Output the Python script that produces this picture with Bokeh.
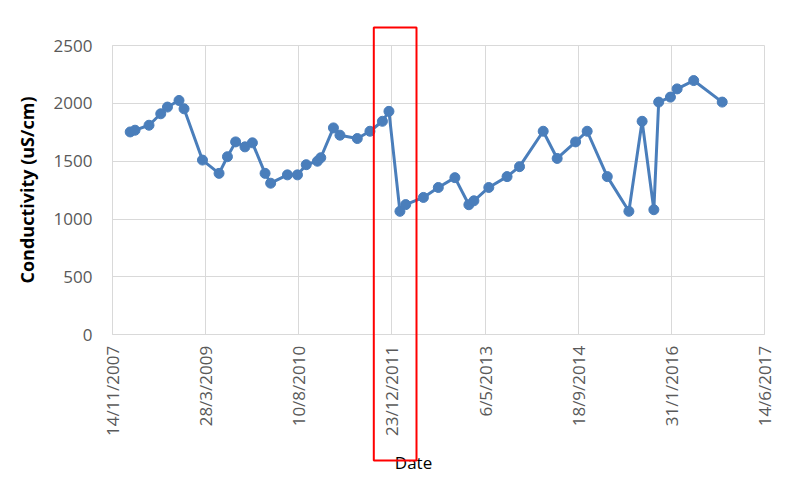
import math
import pandas as pd
from bokeh.plotting import figure
from bokeh.models import FixedTicker, BoxAnnotation, Label, Range1d
from bokeh.embed import file_html
from bokeh.resources import INLINE

# ---- data ----
dates = [
    "2008-02-17", "2008-03-14", "2008-05-28", "2008-07-30", "2008-09-04", "2008-11-05", "2008-12-02",
    "2009-03-11", "2009-06-08", "2009-07-23", "2009-09-05", "2009-10-25", "2009-12-04",
    "2010-02-10", "2010-03-12", "2010-06-10", "2010-08-03", "2010-09-19", "2010-11-18", "2010-12-06",
    "2011-02-12", "2011-03-19", "2011-06-20", "2011-08-27", "2011-11-02", "2011-12-07",
    "2012-02-04", "2012-03-06", "2012-06-09", "2012-08-28", "2012-11-25",
    "2013-02-08", "2013-03-07", "2013-05-26", "2013-09-01", "2013-11-07",
    "2014-03-14", "2014-05-28", "2014-09-04", "2014-11-05",
    "2015-02-21", "2015-06-17", "2015-08-27", "2015-10-29", "2015-11-24",
    "2016-01-26", "2016-03-02", "2016-05-30", "2016-10-30",
]
conductivity = [
    1753, 1768, 1811, 1910, 1968, 2025, 1953,
    1510, 1395, 1539, 1667, 1624, 1659,
    1395, 1310, 1382, 1382, 1470, 1500, 1530,
    1788, 1725, 1696, 1759, 1845, 1931,
    1067, 1125, 1187, 1273, 1358,
    1124, 1158, 1273, 1367, 1453,
    1759, 1524, 1667, 1759,
    1367, 1067, 1845, 1081, 2011,
    2054, 2125, 2197, 2011,
]
tick_labels = ["14/11/2007", "28/3/2009", "10/8/2010", "23/12/2011",
               "6/5/2013", "18/9/2014", "31/1/2016", "14/6/2017"]
y_ticks = [0, 500, 1000, 1500, 2000, 2500]

DAY = 86400000
x = [int(pd.Timestamp(d).value // 10**6) for d in dates]
tick_vals = [int(pd.Timestamp(pd.to_datetime(t, dayfirst=True)).value // 10**6) for t in tick_labels]
x0, x1 = tick_vals[0], tick_vals[-1]
y0, y1 = y_ticks[0], y_ticks[-1]

# ---- layout geometry (pixels); the frame covers the whole canvas ----
W, H = 786, 473
plot_left, plot_right = 112, 764       # visible plot area
plot_top, plot_zero = 45, 334.3        # y of 2500 and 0
unit = (plot_zero - plot_top) / (y1 - y0)          # px per uS/cm
ms_per_px = (x1 - x0) / (plot_right - plot_left)

def xpx(px):
    return x0 + (px - plot_left) * ms_per_px

def ypx(py):
    return (plot_zero - py) / unit

p = figure(width=W, height=H, output_backend="svg", toolbar_location=None,
           x_range=Range1d(xpx(0), xpx(W)), y_range=Range1d(ypx(H), ypx(0)),
           min_border_left=0, min_border_right=0, min_border_top=0, min_border_bottom=0)
p.background_fill_color = "white"
p.border_fill_color = "white"
p.outline_line_color = None

# grid (also forms the plot-area border)
p.xgrid.ticker = FixedTicker(ticks=tick_vals)
p.ygrid.ticker = FixedTicker(ticks=y_ticks)
grid_color = "#d9d9d9"
try:
    p.xgrid.cross_bounds = (y0, y1)
    p.ygrid.cross_bounds = (x0, x1)
    for g in (p.xgrid[0], p.ygrid[0]):
        g.grid_line_color = grid_color
        g.grid_line_width = 1
except Exception:
    p.xgrid.visible = False
    p.ygrid.visible = False
    p.segment(x0=tick_vals, y0=[y0] * len(tick_vals), x1=tick_vals, y1=[y1] * len(tick_vals),
              line_color=grid_color, line_width=1)
    p.segment(x0=[x0] * len(y_ticks), y0=y_ticks, x1=[x1] * len(y_ticks), y1=y_ticks,
              line_color=grid_color, line_width=1)

blue = "#4a7ebb"
p.line(x, conductivity, line_color=blue, line_width=3)
p.scatter(x, conductivity, size=10, fill_color=blue, line_color=blue)

# axes, pinned inside the frame
p.xaxis.fixed_location = y0
p.xaxis.ticker = FixedTicker(ticks=tick_vals)
p.xaxis.major_label_overrides = {v: l for v, l in zip(tick_vals, tick_labels)}
p.xaxis.major_label_orientation = math.pi / 2
p.xaxis.bounds = (x0, x1)
p.yaxis.fixed_location = x0
p.yaxis.ticker = FixedTicker(ticks=y_ticks)
p.yaxis.bounds = (y0, y1)

for ax in (p.xaxis[0], p.yaxis[0]):
    ax.major_tick_out = 0
    ax.major_tick_in = 0
    ax.minor_tick_out = 0
    ax.minor_tick_in = 0
    ax.axis_line_color = grid_color
    ax.major_label_text_font = "Open Sans"
    ax.major_label_text_font_size = "17px"
    ax.major_label_text_color = "#595959"

p.xaxis.major_label_standoff = 11
p.yaxis.major_label_standoff = 20
p.yaxis.axis_label = "Conductivity (uS/cm)"
p.yaxis.axis_label_text_font = "Open Sans"
p.yaxis.axis_label_text_font_size = "18px"
p.yaxis.axis_label_text_font_style = "bold"
p.yaxis.axis_label_text_color = "black"
p.yaxis.axis_label_standoff = 12

# "Date" axis title
p.add_layout(Label(x=xpx(413), y=ypx(462), text="Date", text_font="Open Sans",
                   text_font_size="17px", text_color="black",
                   text_align="center", text_baseline="middle"))

# red highlight box
p.add_layout(BoxAnnotation(left=xpx(373.3), right=xpx(416), top=ypx(27), bottom=ypx(460),
                           fill_alpha=0, line_color="red", line_width=2, line_alpha=1))

open("out.html", "w").write(file_html(p, INLINE))
